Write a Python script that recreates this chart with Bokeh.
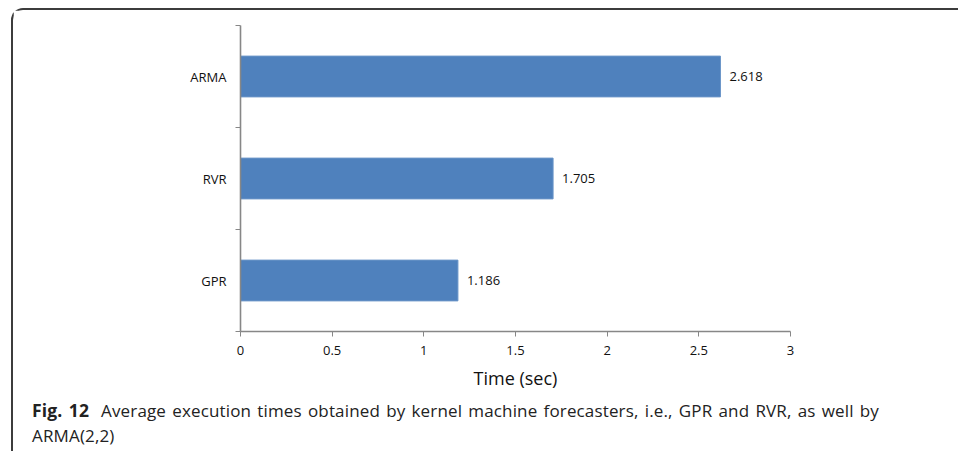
from bokeh.plotting import figure
from bokeh.models import FixedTicker, ColumnDataSource, Range1d, Div
from bokeh.layouts import column
from bokeh.embed import file_html
from bokeh.resources import INLINE

categories = ["GPR", "RVR", "ARMA"]
times = [1.186, 1.705, 2.618]
x_ticks = [0, 0.5, 1, 1.5, 2, 2.5, 3]
x_tick_labels = ["0", "0.5", "1", "1.5", "2", "2.5", "3"]
x_label = "Time (sec)"
caption_bold = "Fig. 12"
caption_line1 = "Average execution times obtained by kernel machine forecasters, i.e., GPR and RVR, as well by"
caption_line2 = "ARMA(2,2)"

FONT = "Open Sans"

pos = [i + 0.5 for i in range(len(categories))]
src = ColumnDataSource(dict(y=pos, t=times, lbl=[f"{v:.3f}" for v in times]))

p = figure(
    frame_width=550, frame_height=306,
    min_border_left=227, min_border_right=158,
    min_border_top=15, min_border_bottom=62,
    x_range=Range1d(0, 3), y_range=Range1d(0, len(categories)),
    output_backend="svg", toolbar_location=None,
)
p.outline_line_color = None
p.grid.visible = False
p.background_fill_color = "white"
p.border_fill_color = "white"

p.hbar(y="y", right="t", left=0, height=0.4, source=src,
       fill_color="#4F81BD", line_color="#6A95C8", line_width=1)
p.text(x="t", y="y", text="lbl", source=src, x_offset=9,
       text_baseline="middle", text_align="left",
       text_font_size="13px", text_font={"value": FONT}, text_color="#111111")

for ax in (p.xaxis[0], p.yaxis[0]):
    ax.axis_line_color = "#878787"
    ax.axis_line_width = 1.6
    ax.major_tick_line_color = "#878787"
    ax.minor_tick_line_color = "#878787"
    ax.major_label_text_font = FONT
    ax.major_label_text_color = "#111111"

xa = p.xaxis[0]
xa.ticker = FixedTicker(ticks=x_ticks)
xa.major_label_overrides = {t: l for t, l in zip(x_ticks, x_tick_labels)}
xa.major_tick_out = 5
xa.major_tick_in = 0
xa.minor_tick_out = 0
xa.minor_tick_in = 0
xa.major_label_text_font_size = "13px"
xa.major_label_standoff = 9
xa.axis_label = x_label
xa.axis_label_text_font = FONT
xa.axis_label_text_font_size = "18px"
xa.axis_label_text_font_style = "normal"
xa.axis_label_text_color = "#111111"
xa.axis_label_standoff = 8

ya = p.yaxis[0]
ya.ticker = FixedTicker(ticks=pos, minor_ticks=list(range(len(categories) + 1)))
ya.major_label_overrides = {t: c for t, c in zip(pos, categories)}
ya.major_tick_out = 0
ya.major_tick_in = 0
ya.minor_tick_out = 5
ya.minor_tick_in = 0
ya.major_label_text_font_size = "13px"
ya.major_label_standoff = 9

caption_html = (
    '<div style="width:861px;padding-left:14px;">'
    '<div style="text-align:justify;text-align-last:justify;">'
    f'<span style="font-weight:700;font-size:17.5px;">{caption_bold}</span>'
    '<span style="display:inline-block;width:12px;"></span>'
    f'{caption_line1}</div>'
    f'<div>{caption_line2}</div>'
    '</div>'
)
cap = Div(text=caption_html, width=935, height=52,
          styles={"font-family": FONT, "font-size": "17px",
                  "letter-spacing": "0.15px",
                  "line-height": "25px", "color": "#222222"})

layout = column(p, cap, spacing=0, styles={
    "margin-left": "11px",
    "margin-top": "8px",
    "border-left": "2px solid #3c3c3c",
    "border-top": "2px solid #3c3c3c",
    "border-top-left-radius": "12px",
    "background-color": "white",
})

open("out.html", "w").write(file_html(layout, INLINE))
